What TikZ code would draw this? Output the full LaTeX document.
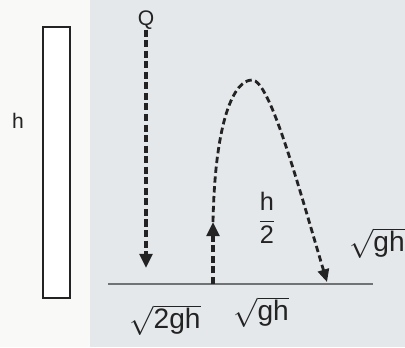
\documentclass[tikz,border=0pt]{standalone}
\usepackage{fontspec}
\setmainfont{Liberation Sans}
\usetikzlibrary{positioning,arrows.meta}
\definecolor{panelgray}{RGB}{229,232,235}
\definecolor{sidewhite}{RGB}{249,249,248}
\definecolor{inkgray}{RGB}{35,35,35}
\definecolor{groundgray}{RGB}{112,114,116}

\begin{document}
\begin{tikzpicture}[
        x=0.025cm, y=-0.025cm,
        lbl/.style={inner sep=0pt, text=inkgray, font=\fontsize{15}{18}\selectfont},
        frac/.style={inner sep=0pt, text=inkgray, font=\fontsize{18}{21}\selectfont},
        vel/.style={inner sep=0pt, text=inkgray, font=\fontsize{20}{24}\selectfont},
        fall/.style={draw=inkgray, line width=2.6pt, dash pattern=on 5pt off 2.5pt, -{Triangle[length=10pt, width=9pt]}},
        flight/.style={draw=inkgray, line width=2pt, dash pattern=on 4.5pt off 2.5pt, -{Triangle[length=9pt, width=8pt]}},
    ]

    % panels
    \useasboundingbox (0,0) rectangle (405,347);
    \fill[sidewhite] (0,0) rectangle (90,347);
    \fill[panelgray] (90,0) rectangle (405,347);

    % rod of height h
    \node[draw=inkgray, line width=1.2pt, fill=white, inner sep=0pt, minimum width=0.675cm, minimum height=6.775cm] (rod) at (56.5,162.5) {};
    \node[lbl] (hlabel) at (18,121) {h};

    % ground
    \coordinate (gl) at (108,284);
    \coordinate (gr) at (373,284);
    \draw[groundgray, line width=2pt] (gl) -- (gr);

    % drop from Q
    \node[lbl] (ball) at (146,20) {Q};
    \coordinate (impact) at (146,268);
    \draw[fall] (ball) -- (impact);

    % bounce up to h/2 and land again
    \coordinate (bounce) at (213,284);
    \coordinate (rise) at (213,222);
    \coordinate (peak) at (252,80);
    \coordinate (land) at (327,282);
    \draw[fall] (bounce) -- (rise);
    \draw[flight] (rise) .. controls (215,120) and (234,80) .. (peak) .. controls (270,80) and (298,185) .. (land);

    % labels
    \node[frac] (half) at (267,218) {$\displaystyle\frac{\mbox{h}}{\mbox{2}}$};
    \node[vel, anchor=east] (vland) at (405,243) {$\sqrt{\mbox{gh}}$};
    \node[vel] (vimpact) at (165,320) {$\sqrt{\mbox{2gh}}$};
    \node[vel] (vbounce) at (261,312) {$\sqrt{\mbox{gh}}$};

\end{tikzpicture}
\end{document}
